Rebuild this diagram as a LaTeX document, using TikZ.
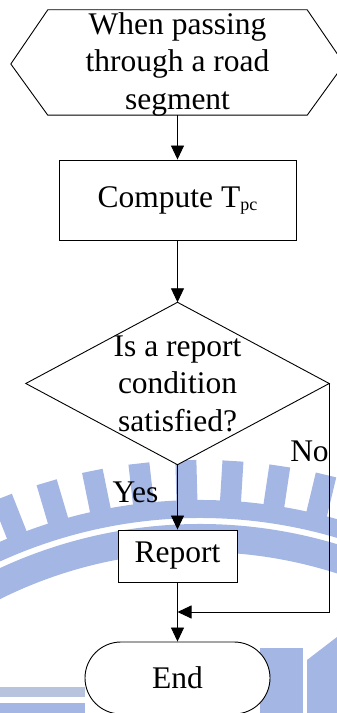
\documentclass[tikz,border=0pt]{standalone}
\usepackage{fontspec}
\setmainfont{Liberation Serif}
\usetikzlibrary{arrows.meta,calc,backgrounds}
\definecolor{logoblue}{RGB}{164,182,227}
\definecolor{logopale}{RGB}{184,196,222}
\begin{document}
\begin{tikzpicture}[x=1pt,y=1pt,
  txt/.style={inner sep=0pt, align=center, font=\fontsize{31.5}{37.5}\selectfont},
  box/.style={txt, draw, fill=white, line width=0.9pt},
  outline/.style={draw, fill=white, line width=0.9pt},
  flow/.style={line width=0.9pt, -{Triangle[length=14pt,width=13pt]}},
  lbl/.style={inner sep=0pt, anchor=base, font=\fontsize{31.5}{37.5}\selectfont}]
\useasboundingbox (0,0) rectangle (337,713);

% faint logo in the background
\begin{pgfonlayer}{background}
\begin{scope}
  \clip (0,0) rectangle (337,713);
  \begin{scope}[shift={(200,-287)}]
    \fill[logoblue] (40:500) arc[start angle=40, end angle=140, radius=500]
      -- (140:482) arc[start angle=140, end angle=40, radius=482] -- cycle;
    \fill[logoblue] (40:476) arc[start angle=40, end angle=140, radius=476]
      -- (140:448) arc[start angle=140, end angle=40, radius=448] -- cycle;
    \foreach \a in {111.5,106.5,...,76.5}
      \fill[logoblue, rotate={\a-90}] (-10.5,496) rectangle (10.5,540);
  \end{scope}
  \fill[logopale] (0,16) rectangle (85,26);
  \fill[logoblue] (0,0) rectangle (85,10);
  \fill[logoblue] (260,0) rectangle (303,65);
  \fill[logoblue] (307,0) -- (307,53) -- (337,76) -- (337,0) -- cycle;
\end{scope}
\end{pgfonlayer}

% flowchart nodes
\node[txt, minimum width=259pt, minimum height=105pt] (start) at (177.5,649)
  {When passing\\through a road\\segment};
\node[box, minimum width=237pt, minimum height=80pt] (comp) at (177.5,513)
  {Compute T\raisebox{-3pt}{\fontsize{18}{18}\selectfont pc}};
\node[txt, minimum width=303pt, minimum height=162pt] (dec) at (177.5,329.5)
  {Is a report\\condition\\satisfied?};
\node[box, minimum width=119pt, minimum height=52pt] (report) at (177.5,157) {Report};
\node[box, rounded corners=36pt, minimum width=185pt, minimum height=72pt] (end) at (177.5,35) {End};
\coordinate (join) at (177.5,101);

% hexagon and diamond outlines drawn behind their text
\begin{pgfonlayer}{background}
\path[outline] ($(start.north west)+(0,1.5)$) -- ($(start.west)+(-37,0)$) -- ($(start.south west)+(0,1.5)$)
  -- ($(start.south east)+(0,1.5)$) -- ($(start.east)+(37,0)$) -- ($(start.north east)+(0,1.5)$) -- cycle;
\path[outline] (dec.north) -- (dec.east) -- (dec.south) -- (dec.west) -- cycle;
\end{pgfonlayer}

% branch labels
\node[lbl] (yes) at (135.5,210) {Yes};
\node[lbl] (no) at (309.5,251) {No};

% connectors
\draw[flow] ($(start.south)+(0,1.5)$) -- (comp);
\draw[flow] (comp) -- (dec);
\draw[flow] (dec) -- (report);
\draw[flow] (report) -- (end);
\draw[flow] (dec.east) |- (join);
\end{tikzpicture}
\end{document}
